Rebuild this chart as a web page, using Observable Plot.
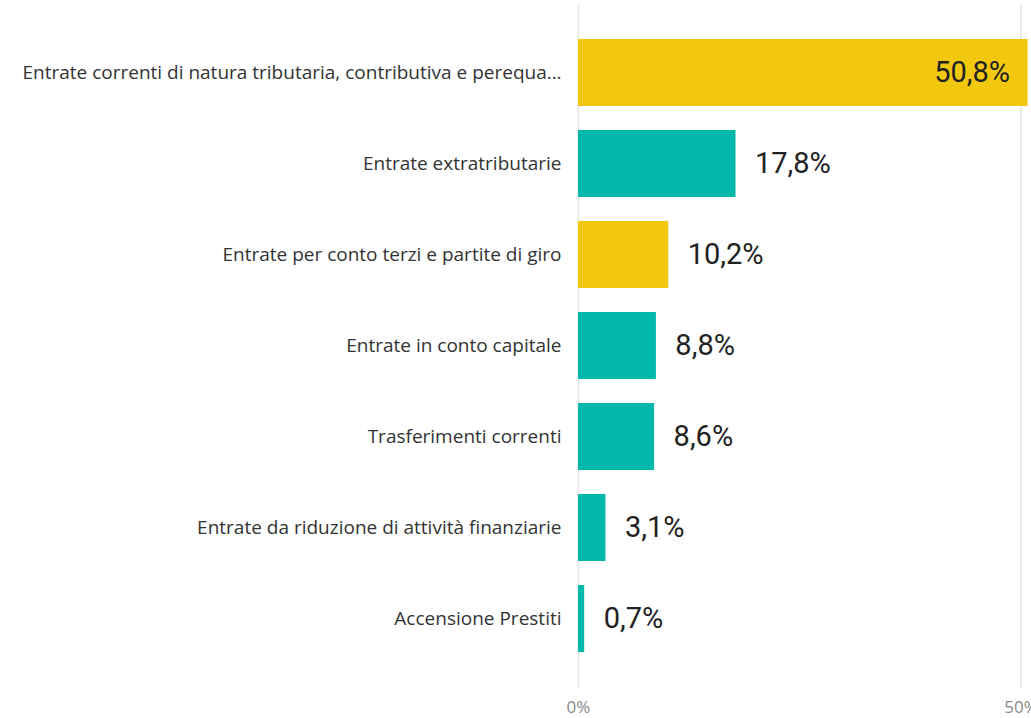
<!DOCTYPE html>
<html><head><meta charset="utf-8">
<script src="https://cdn.jsdelivr.net/npm/d3@7"></script>
<script src="https://cdn.jsdelivr.net/npm/@observablehq/plot@0.6"></script>
<style>html,body{margin:0;padding:0;background:#fff;overflow:hidden}</style>
</head><body><div id="chart"></div>
<script>
const categories = [
  "Entrate correnti di natura tributaria, contributiva e perequa…",
  "Entrate extratributarie",
  "Entrate per conto terzi e partite di giro",
  "Entrate in conto capitale",
  "Trasferimenti correnti",
  "Entrate da riduzione di attività finanziarie",
  "Accensione Prestiti"
];
const values = [50.8, 17.8, 10.2, 8.8, 8.6, 3.1, 0.7];
const valueLabels = ["50,8%", "17,8%", "10,2%", "8,8%", "8,6%", "3,1%", "0,7%"];
const groups = ["A", "B", "A", "B", "B", "B", "B"];
const xTicks = [0, 50];
const xTickLabels = ["0%", "50%"];

const data = categories.map((c, i) => ({category: c, value: values[i], label: valueLabels[i], group: groups[i]}));
const maxVal = d3.max(values);

const chart = Plot.plot({
  width: 1031, height: 718,
  marginLeft: 578, marginRight: 0, marginTop: 27, marginBottom: 54,
  style: {fontFamily: "'Open Sans', sans-serif", background: "#fff", overflow: "visible"},
  x: {domain: [0, 51.19], axis: null},
  y: {domain: categories, paddingInner: 0.26, paddingOuter: 0.13, axis: null},
  color: {domain: ["A", "B"], range: ["#F2C80F", "#01B8AA"]},
  marks: [
    Plot.ruleX(xTicks, {stroke: "#ebebeb", strokeWidth: 2, insetTop: -22, insetBottom: -24}),
    Plot.barX(data, {x: "value", y: "category", fill: "group"}),
    Plot.axisY({tickSize: 0, tickPadding: 17, fontSize: 19, color: "#333", label: null}),
    Plot.axisX(xTicks, {tickSize: 0, tickPadding: 36, fontSize: 17, color: "#888", label: null,
      tickFormat: d => xTickLabels[xTicks.indexOf(d)]}),
    Plot.text(data.filter(d => d.value !== maxVal), {x: "value", y: "category", text: "label",
      textAnchor: "start", dx: 19, fontSize: 29, fontFamily: "Roboto", fill: "#222"}),
    Plot.text(data.filter(d => d.value === maxVal), {x: "value", y: "category", text: "label",
      textAnchor: "end", dx: -18, fontSize: 29, fontFamily: "Roboto", fill: "#222"})
  ]
});
document.getElementById("chart").append(chart);
</script>
</body></html>
